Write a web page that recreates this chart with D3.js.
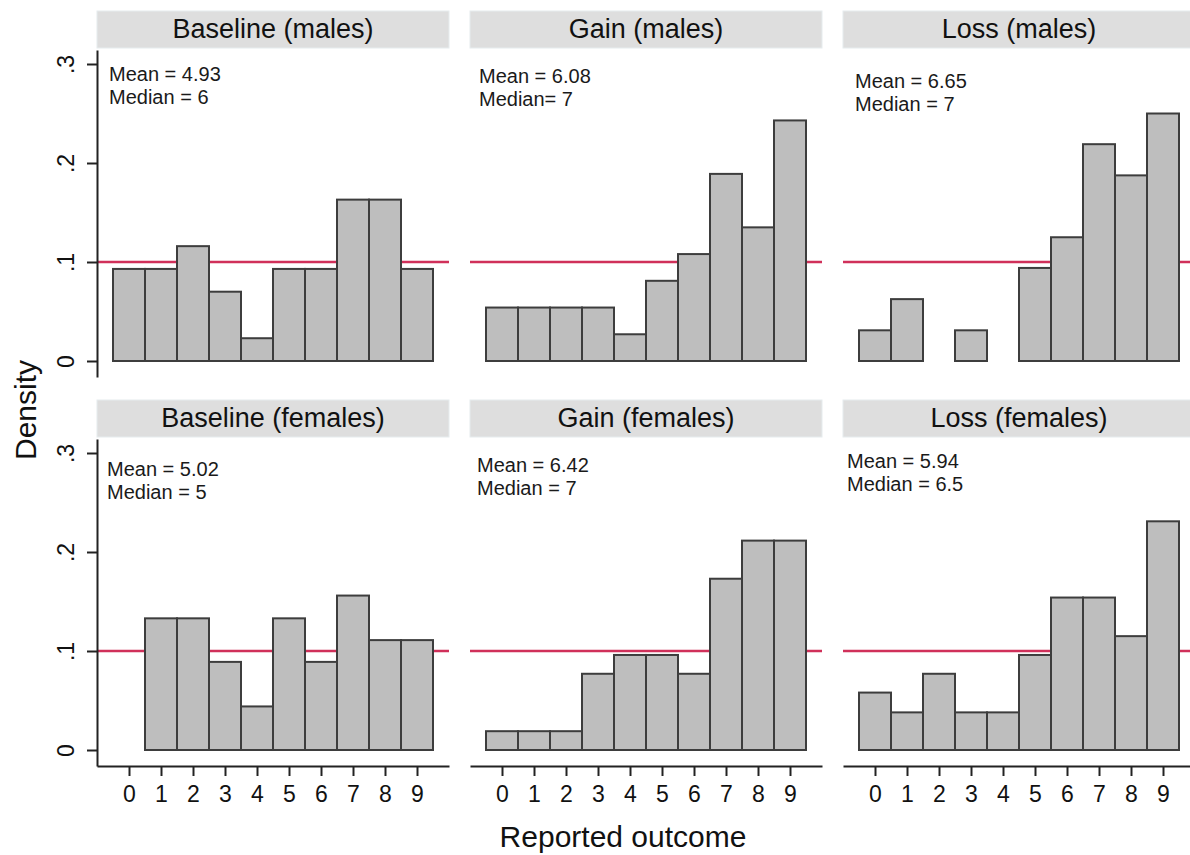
<!DOCTYPE html>
<html>
<head>
<meta charset="utf-8">
<script src="https://cdn.jsdelivr.net/npm/d3@7"></script>
<style>
  body { margin: 0; background: #fff; }
  svg { display: block; font-family: "Liberation Sans", Arial, Helvetica, sans-serif; }
</style>
</head>
<body>
<svg id="chart" width="1190" height="855"></svg>
<script>
// reported outcomes 0..9
const outcomes = [0, 1, 2, 3, 4, 5, 6, 7, 8, 9];
const yTicks = [0, 0.1, 0.2, 0.3];
const yTickLabels = ["0", ".1", ".2", ".3"];

const panelTitles = [
    "Baseline (males)", "Gain (males)", "Loss (males)",
    "Baseline (females)", "Gain (females)", "Loss (females)"
];

// densities
const baselineMales   = [0.093, 0.093, 0.116, 0.070, 0.023, 0.093, 0.093, 0.163, 0.163, 0.093];
const gainMales       = [0.054, 0.054, 0.054, 0.054, 0.027, 0.081, 0.108, 0.189, 0.135, 0.243];
const lossMales       = [0.031, 0.0625, 0, 0.031, 0, 0.094, 0.125, 0.219, 0.1875, 0.25];
const baselineFemales = [0, 0.133, 0.133, 0.089, 0.044, 0.133, 0.089, 0.156, 0.111, 0.111];
const gainFemales     = [0.019, 0.019, 0.019, 0.077, 0.096, 0.096, 0.077, 0.173, 0.2115, 0.2115];
const lossFemales     = [0.058, 0.038, 0.077, 0.038, 0.038, 0.096, 0.154, 0.154, 0.115, 0.231];

const annotations = [
    ["Mean = 4.93", "Median = 6"],
    ["Mean = 6.08", "Median= 7"],
    ["Mean = 6.65", "Median = 7"],
    ["Mean = 5.02", "Median = 5"],
    ["Mean = 6.42", "Median = 7"],
    ["Mean = 5.94", "Median = 6.5"]
];

const uniformLine = 0.1;

const series = [baselineMales, gainMales, lossMales, baselineFemales, gainFemales, lossFemales];

// layout
const colX = [97, 470, 843];
const rowZero = [361, 750];
const panelW = 352;
// annotation offsets (x from panel left, baseline of first line from zero line)
const annotPos = [[12, -280], [9, -278], [12, -273], [10, -274], [7, -278], [4, -282]];

const svg = d3.select("#chart");

const x = d3.scaleLinear().domain([-1, 10]).range([0, panelW]);

series.forEach((vals, k) => {
    const row = Math.floor(k / 3), col = k % 3;
    const zeroY = rowZero[row];
    const left = colX[col];
    const y = d3.scaleLinear()
        .domain([-16 / 990, 311 / 990])
        .range([zeroY + 16, zeroY - 311]);

    const g = svg.append("g").attr("transform", `translate(${left},0)`);

    // header strip
    g.append("rect")
        .attr("x", 0).attr("y", zeroY - 350)
        .attr("width", panelW).attr("height", 37)
        .attr("fill", "#dedede")
        .attr("stroke", "#e6ecee").attr("stroke-width", 1);
    g.append("text")
        .attr("x", panelW / 2).attr("y", zeroY - 323)
        .attr("text-anchor", "middle")
        .attr("font-size", 27)
        .attr("fill", "#111")
        .text(panelTitles[k]);

    // uniform reference line
    g.append("line")
        .attr("x1", 0).attr("x2", panelW)
        .attr("y1", y(uniformLine)).attr("y2", y(uniformLine))
        .attr("stroke", "#d0305a")
        .attr("stroke-width", 2.5);

    // bars (drawn over the line)
    g.selectAll("rect.bar")
        .data(outcomes.filter(d => vals[d] > 0))
        .enter().append("rect")
        .attr("class", "bar")
        .attr("x", d => x(d - 0.5))
        .attr("width", d => x(d + 0.5) - x(d - 0.5))
        .attr("y", d => y(vals[d]))
        .attr("height", d => y(0) - y(vals[d]))
        .attr("fill", "#bebebe")
        .attr("stroke", "#3d3d3d")
        .attr("stroke-width", 2);

    // mean / median text
    const ap = annotPos[k];
    annotations[k].forEach((t, i) => {
        g.append("text")
            .attr("x", ap[0])
            .attr("y", zeroY + ap[1] + i * 23)
            .attr("font-size", 20)
            .attr("fill", "#1a1a1a")
            .text(t);
    });

    // y axis on the left column
    if (col === 0) {
        const ya = g.append("g")
            .call(d3.axisLeft(y).tickValues(yTicks).tickSize(10).tickSizeOuter(0)
                .tickFormat((d, i) => yTickLabels[i]));
        ya.select(".domain").attr("stroke", "#222").attr("stroke-width", 2);
        ya.selectAll(".tick line").attr("stroke", "#222").attr("stroke-width", 2);
        ya.selectAll(".tick text")
            .attr("x", null).attr("dy", null)
            .attr("transform", "translate(-31,0) rotate(-90)")
            .attr("text-anchor", "middle")
            .attr("dominant-baseline", "central")
            .attr("font-size", 23)
            .attr("fill", "#111");
    }

    // x axis on the bottom row
    if (row === 1) {
        const xa = g.append("g")
            .attr("transform", `translate(0,${zeroY + 16})`)
            .call(d3.axisBottom(x).tickValues(outcomes).tickSize(10).tickSizeOuter(0).tickPadding(10));
        xa.select(".domain").attr("stroke", "#222").attr("stroke-width", 2);
        xa.selectAll(".tick line").attr("stroke", "#222").attr("stroke-width", 2);
        xa.selectAll(".tick text").attr("font-size", 23).attr("fill", "#111");
    }
});

// axis titles
svg.append("text")
    .attr("transform", "translate(25,410) rotate(-90)")
    .attr("text-anchor", "middle")
    .attr("dominant-baseline", "central")
    .attr("font-size", 30)
    .attr("fill", "#111")
    .text("Density");

svg.append("text")
    .attr("x", 623).attr("y", 847)
    .attr("text-anchor", "middle")
    .attr("font-size", 30)
    .attr("fill", "#111")
    .text("Reported outcome");
</script>
</body>
</html>
